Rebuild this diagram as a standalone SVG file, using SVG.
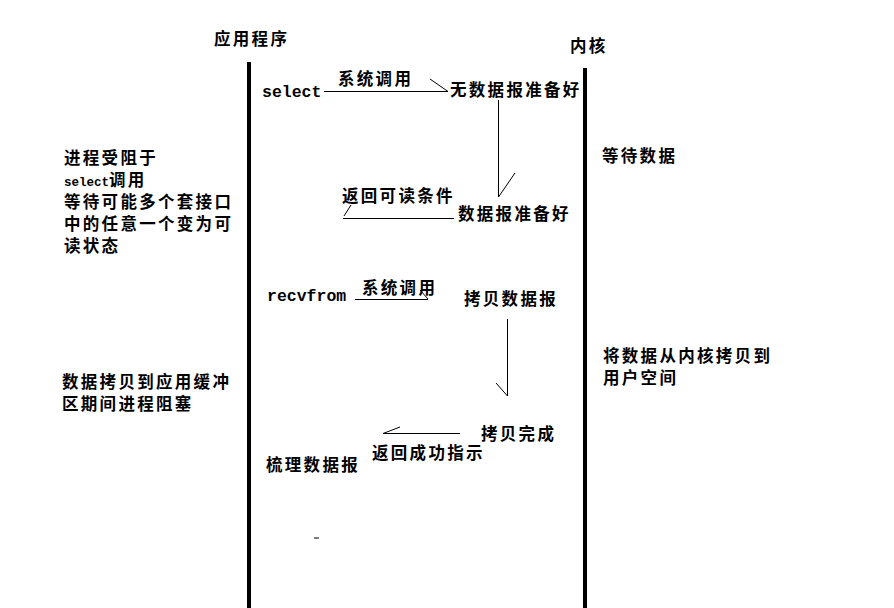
<svg xmlns="http://www.w3.org/2000/svg" width="894" height="608" viewBox="0 0 894 608">
<style>
.t{font-family:"Noto Sans CJK SC","Liberation Sans",sans-serif;font-size:16.5px;letter-spacing:2.3px;font-weight:bold;fill:#000}
.m{font-family:"Liberation Mono","Noto Sans CJK SC",monospace;font-size:16.5px;letter-spacing:0;font-weight:bold;fill:#000}
.ms{font-family:"Liberation Mono",monospace;font-size:12.5px;letter-spacing:0;font-weight:bold}
.ln{stroke:#000;stroke-width:1;fill:none}
.life{stroke:#000;stroke-width:4;fill:none}
</style>
<rect width="894" height="608" fill="#fff"/>
<g id="app">
<text class="t" x="214" y="45">应用程序</text>
<line class="life" x1="249" y1="62" x2="249" y2="608"/>
</g>
<g id="kernel">
<text class="t" x="570" y="52">内核</text>
<line class="life" x1="585" y1="68" x2="585" y2="608"/>
</g>
<g id="select"><text class="m" x="262" y="97">select</text></g>
<g id="no-data"><text class="t" x="450" y="96">无数据报准备好</text></g>
<g id="data-ready"><text class="t" x="458" y="220">数据报准备好</text></g>
<g id="recvfrom"><text class="m" x="267" y="301">recvfrom</text></g>
<g id="copy-data"><text class="t" x="464" y="305">拷贝数据报</text></g>
<g id="copy-done"><text class="t" x="481" y="440">拷贝完成</text></g>
<g id="process"><text class="t" x="266" y="471">梳理数据报</text></g>
<g id="note-left-1">
<text class="t" x="64" y="164">进程受阻于</text>
<text class="t" x="64" y="186"><tspan class="ms">select</tspan>调用</text>
<text class="t" x="64" y="208">等待可能多个套接口</text>
<text class="t" x="64" y="230">中的任意一个变为可</text>
<text class="t" x="64" y="252">读状态</text>
</g>
<g id="note-left-2">
<text class="t" x="62" y="388">数据拷贝到应用缓冲</text>
<text class="t" x="62" y="410">区期间进程阻塞</text>
</g>
<g id="note-right-1"><text class="t" x="602" y="162">等待数据</text></g>
<g id="note-right-2">
<text class="t" x="603" y="362">将数据从内核拷贝到</text>
<text class="t" x="603" y="384">用户空间</text>
</g>
<g id="connectors">
<line class="ln" x1="324" y1="91.5" x2="448" y2="91.5"/>
<line class="ln" x1="430" y1="79" x2="448" y2="91.5"/>
<text class="t" x="338" y="85">系统调用</text>
<line class="ln" x1="498.5" y1="100" x2="498.5" y2="197"/>
<line class="ln" x1="498.5" y1="197" x2="515" y2="173"/>
<line class="ln" x1="343" y1="218.5" x2="454" y2="218.5"/>
<line class="ln" x1="344" y1="216" x2="351" y2="205"/>
<text class="t" x="342" y="202">返回可读条件</text>
<line class="ln" x1="355" y1="299.5" x2="428" y2="299.5"/>
<line class="ln" x1="420" y1="290" x2="428" y2="299"/>
<text class="t" x="362" y="294">系统调用</text>
<line class="ln" x1="507.5" y1="319" x2="507.5" y2="396"/>
<line class="ln" x1="496" y1="383" x2="507.5" y2="396"/>
<line class="ln" x1="383" y1="433.5" x2="460" y2="433.5"/>
<line class="ln" x1="383" y1="433.5" x2="400" y2="427"/>
<text class="t" x="372" y="459">返回成功指示</text>
</g>
<line x1="314" y1="538" x2="319" y2="538" stroke="#555" stroke-width="1.5"/>
</svg>
